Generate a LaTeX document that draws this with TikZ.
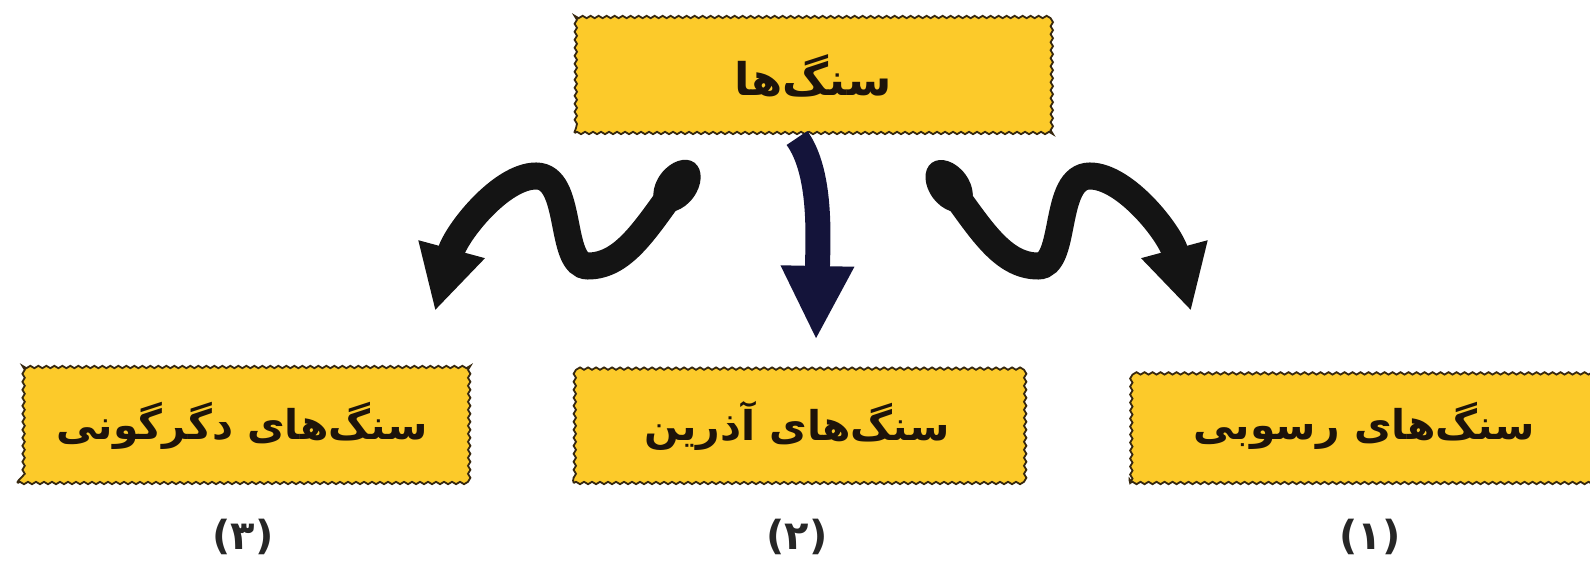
\documentclass[tikz,border=0pt]{standalone}
\usepackage{fontspec}
\usetikzlibrary{arrows.meta,decorations.pathmorphing}
\newfontfamily\arabicfont[Script=Arabic]{DejaVu Sans}
\TeXXeTstate=1
\definecolor{rockyellow}{RGB}{252,202,42}
\definecolor{rimbrown}{RGB}{55,40,15}
\definecolor{inkblue}{RGB}{20,20,58}

\begin{document}
\begin{tikzpicture}[
     x = 1pt, y = 1pt,
     rockbox/.style = {draw = rimbrown, line width = 1.8pt, fill = rockyellow,
       decorate, decoration = {snake, amplitude = 1.2pt, segment length = 8pt},
       minimum height = 114pt, inner sep = 0pt, text = black!85!brown},
     sidearrow/.style = {draw = black!92, line width = 27pt, line cap = round,
       -{Triangle[width=64pt,length=64pt]}},
     tailblob/.style = {fill = black!92},
     midarrow/.style = {draw = inkblue, line width = 25pt,
       -{Triangle[width=68pt,length=74pt]}}
    ]
    \tikzstyle{rocktext}=[font=\arabicfont\bfseries\fontsize{41}{50}\selectfont]
    \tikzstyle{number}=[font=\arabicfont\bfseries\fontsize{40}{48}\selectfont, text = black!85]

    \fill[white] (0,0) rectangle (1590,568);
    \useasboundingbox (0,0) rectangle (1590,568);

    \node[rockbox, minimum width = 477pt,
      font = \arabicfont\bfseries\fontsize{45}{52}\selectfont]
      (rocks) at (813,492) {\beginR سنگ^^^^200cها\endR};

    \node[rockbox, rocktext, minimum width = 449pt] (meta) at (242,142)
      {\beginR سنگ^^^^200cهای دگرگونی\endR};
    \node[rockbox, rocktext, minimum width = 447pt] (igneous) at (797,142)
      {\beginR سنگ^^^^200cهای آذرین\endR};
    \node[rockbox, rocktext, minimum width = 468pt] (sedim) at (1364,142)
      {\beginR سنگ^^^^200cهای رسوبی\endR};

    \node[number] (n3) at (243,31) {(۳)};
    \node[number] (n2) at (797,31) {(۲)};
    \node[number] (n1) at (1370,31) {(۱)};

    \coordinate (ltail) at (677,382);
    \coordinate (ltip) at (435,257);
    \coordinate (mtail) at (797,430);
    \coordinate (mtip) at (816,228);
    \coordinate (rtail) at (949,382);
    \coordinate (rtip) at (1191,257);

    \fill[tailblob, rotate around={53:(ltail)}] (ltail) ellipse (29 and 20);
    \fill[tailblob, rotate around={-53:(rtail)}] (rtail) ellipse (29 and 20);

    \draw[sidearrow] (rtail) .. controls (980,340) and (1002,302) .. (1038,302)
      .. controls (1068,302) and (1052,392) .. (1090,392)
      .. controls (1125,392) and (1170,335) .. (rtip);
    \draw[sidearrow] (ltail) .. controls (646,340) and (624,302) .. (588,302)
      .. controls (558,302) and (574,392) .. (536,392)
      .. controls (501,392) and (456,335) .. (ltip);
    \draw[midarrow] (mtail) .. controls (822,395) and (818,330) .. (mtip);
\end{tikzpicture}
\end{document}
